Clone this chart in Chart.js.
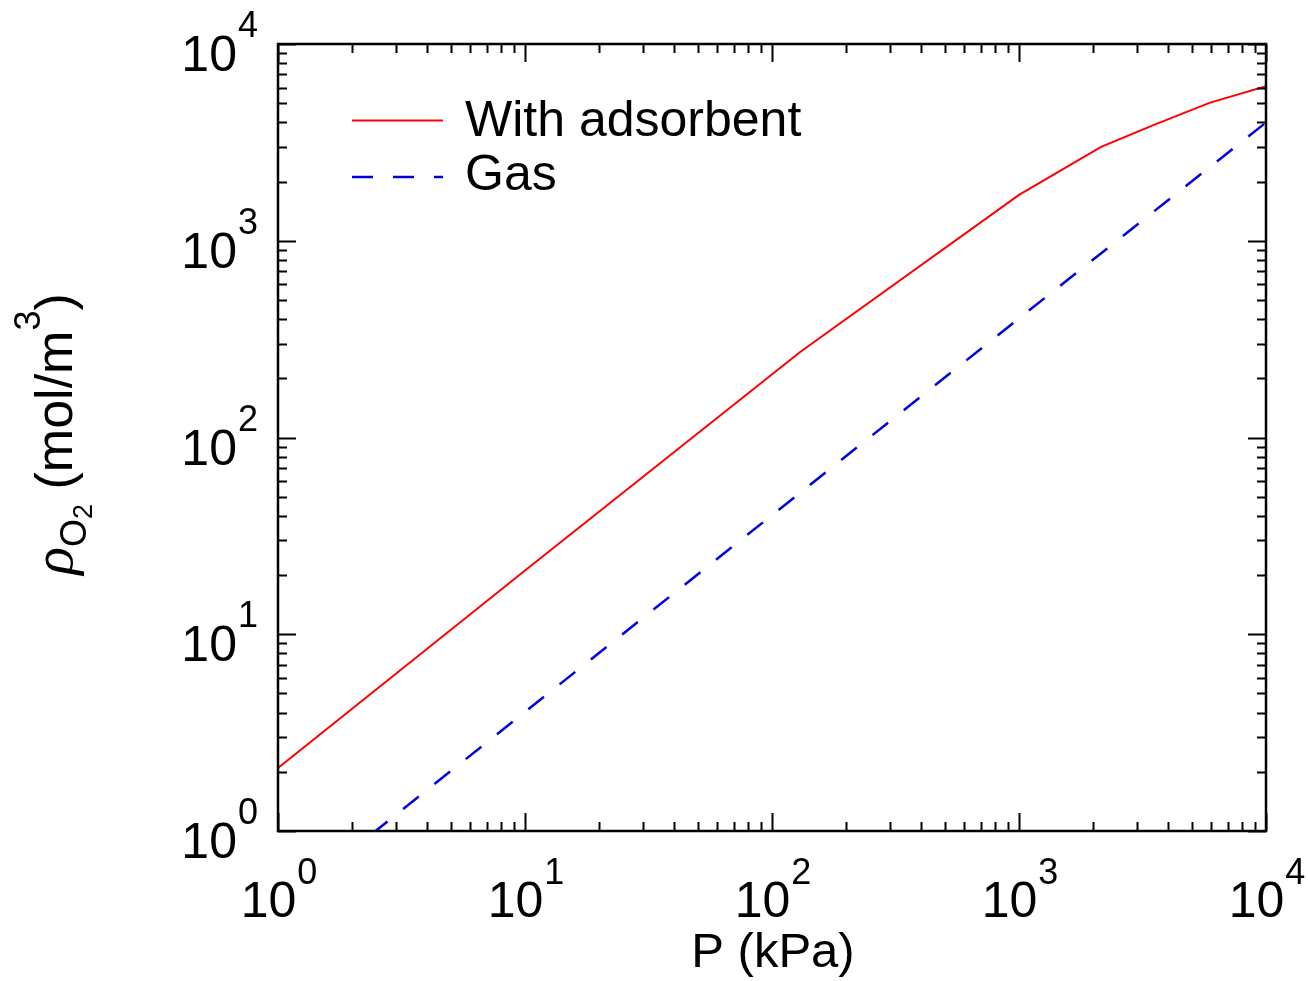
<!DOCTYPE html>
<html>
<head>
<meta charset="utf-8">
<script src="https://cdn.jsdelivr.net/npm/chart.js@4"></script>
<style>
  html, body { margin: 0; padding: 0; background: #fff; }
  #wrap { width: 1308px; height: 981px; }
</style>
</head>
<body>
<div id="wrap"><canvas id="chart_rho"></canvas></div>
<script>
// pressure (kPa) and O2 density (mol/m3)
const pAdsorbent = [1, 10, 130, 1000, 2150, 3500, 5900, 10000];
const rhoAdsorbent = [2.09, 21.1, 272, 1710, 3000, 3870, 5020, 6100];

const pGas = [1, 10, 100, 1000, 10000];
const rhoGas = [0.403, 4.03, 40.3, 403, 3990];

const decades = [0, 1, 2, 3, 4];
const legendLabels = ['With adsorbent', 'Gas'];

const sans = "'Liberation Sans', Arial, Helvetica, sans-serif";

const toPoints = (xs, ys) => xs.map((x, i) => ({ x: x, y: ys[i] }));

const data = {
    datasets: [{
        label: legendLabels[0],
        data: toPoints(pAdsorbent, rhoAdsorbent),
        borderColor: '#ff0000',
        borderWidth: 2,
        pointRadius: 0,
        tension: 0
    }, {
        label: legendLabels[1],
        data: toPoints(pGas, rhoGas),
        borderColor: '#0000dd',
        borderWidth: 2.5,
        borderDash: [20, 20],
        pointRadius: 0,
        tension: 0
    }]
};

// frame, inward ticks, power-of-ten labels, titles and legend
const decorations = {
    id: 'decorations',
    afterDraw(chart) {
        const ctx = chart.ctx;
        const a = chart.chartArea;
        const xs = chart.scales.x;
        const ys = chart.scales.y;
        ctx.save();

        // ticks
        ctx.strokeStyle = '#000';
        ctx.lineWidth = 2;
        ctx.beginPath();
        decades.forEach(k => {
            for (let m = 1; m <= 9; m++) {
                const v = m * Math.pow(10, k);
                if (v > 10000) break;
                const len = m === 1 ? 18 : 9;
                const px = Math.round(xs.getPixelForValue(v)) + 0.5;
                ctx.moveTo(px, a.bottom); ctx.lineTo(px, a.bottom - len);
                ctx.moveTo(px, a.top); ctx.lineTo(px, a.top + len);
                const py = Math.round(ys.getPixelForValue(v)) + 0.5;
                ctx.moveTo(a.left, py); ctx.lineTo(a.left + len, py);
                ctx.moveTo(a.right, py); ctx.lineTo(a.right - len, py);
            }
        });
        ctx.stroke();

        // frame
        ctx.lineWidth = 2.5;
        ctx.strokeRect(a.left, a.top, a.right - a.left, a.bottom - a.top);

        // tick labels
        ctx.fillStyle = '#000';
        ctx.textBaseline = 'alphabetic';
        const baseFont = '50px ' + sans;
        const expFont = '36px ' + sans;
        decades.forEach(k => {
            const v = Math.pow(10, k);
            ctx.font = baseFont;
            const wBase = ctx.measureText('10').width;
            ctx.font = expFont;
            const wExp = ctx.measureText(String(k)).width;
            const total = wBase + 1 + wExp;

            // x axis
            const px = xs.getPixelForValue(v);
            const x0 = px - total / 2 + 1;
            ctx.textAlign = 'left';
            ctx.font = baseFont;
            ctx.fillText('10', x0, 917);
            ctx.font = expFont;
            ctx.fillText(String(k), x0 + wBase + 1, 884);

            // y axis
            const py = ys.getPixelForValue(v);
            const right = 258;
            ctx.font = expFont;
            ctx.fillText(String(k), right - wExp, py - 7);
            ctx.font = baseFont;
            ctx.fillText('10', right - wExp - 1 - wBase, py + 27);
        });

        // x title
        ctx.font = '49px ' + sans;
        ctx.textAlign = 'center';
        ctx.fillText('P (kPa)', 773, 967);

        // y title, rotated
        ctx.save();
        ctx.translate(72, 434);
        ctx.rotate(-Math.PI / 2);
        const parts = [
            { t: '\u03c1', f: 'italic 58px "Liberation Serif", "DejaVu Serif", serif', dy: 0 },
            { t: 'O', f: '36px ' + sans, dy: 14 },
            { t: '2', f: '27px ' + sans, dy: 20 },
            { t: ' (mol/m', f: '52px ' + sans, dy: 0 },
            { t: '3', f: '36px ' + sans, dy: -32 },
            { t: ')', f: '52px ' + sans, dy: 0 }
        ];
        let tw = 0;
        parts.forEach(p => { ctx.font = p.f; p.w = ctx.measureText(p.t).width; tw += p.w; });
        let cx = -tw / 2;
        ctx.textAlign = 'left';
        parts.forEach(p => {
            ctx.font = p.f;
            ctx.fillText(p.t, cx, p.dy);
            cx += p.w;
        });
        ctx.restore();

        // legend
        ctx.lineWidth = 2;
        ctx.strokeStyle = '#ff0000';
        ctx.beginPath();
        ctx.moveTo(352, 120.5); ctx.lineTo(443, 120.5);
        ctx.stroke();
        ctx.strokeStyle = '#0000dd';
        ctx.lineWidth = 2.5;
        ctx.setLineDash([21, 20]);
        ctx.beginPath();
        ctx.moveTo(352, 177); ctx.lineTo(443, 177);
        ctx.stroke();
        ctx.setLineDash([]);
        ctx.font = '50px ' + sans;
        ctx.textAlign = 'left';
        ctx.fillText(legendLabels[0], 465, 136);
        ctx.fillText(legendLabels[1], 465, 190);

        ctx.restore();
    }
};

const config = {
    type: 'line',
    data: data,
    options: {
        responsive: true,
        maintainAspectRatio: false,
        animation: false,
        layout: {
            padding: { left: 278, right: 42, top: 44, bottom: 150 }
        },
        scales: {
            x: { type: 'logarithmic', min: 1, max: 10000, display: false },
            y: { type: 'logarithmic', min: 1, max: 10000, display: false }
        },
        plugins: {
            legend: { display: false },
            tooltip: { enabled: false }
        }
    },
    plugins: [decorations]
};

const myChart = new Chart(
    document.getElementById('chart_rho'),
    config
);
</script>
</body>
</html>
